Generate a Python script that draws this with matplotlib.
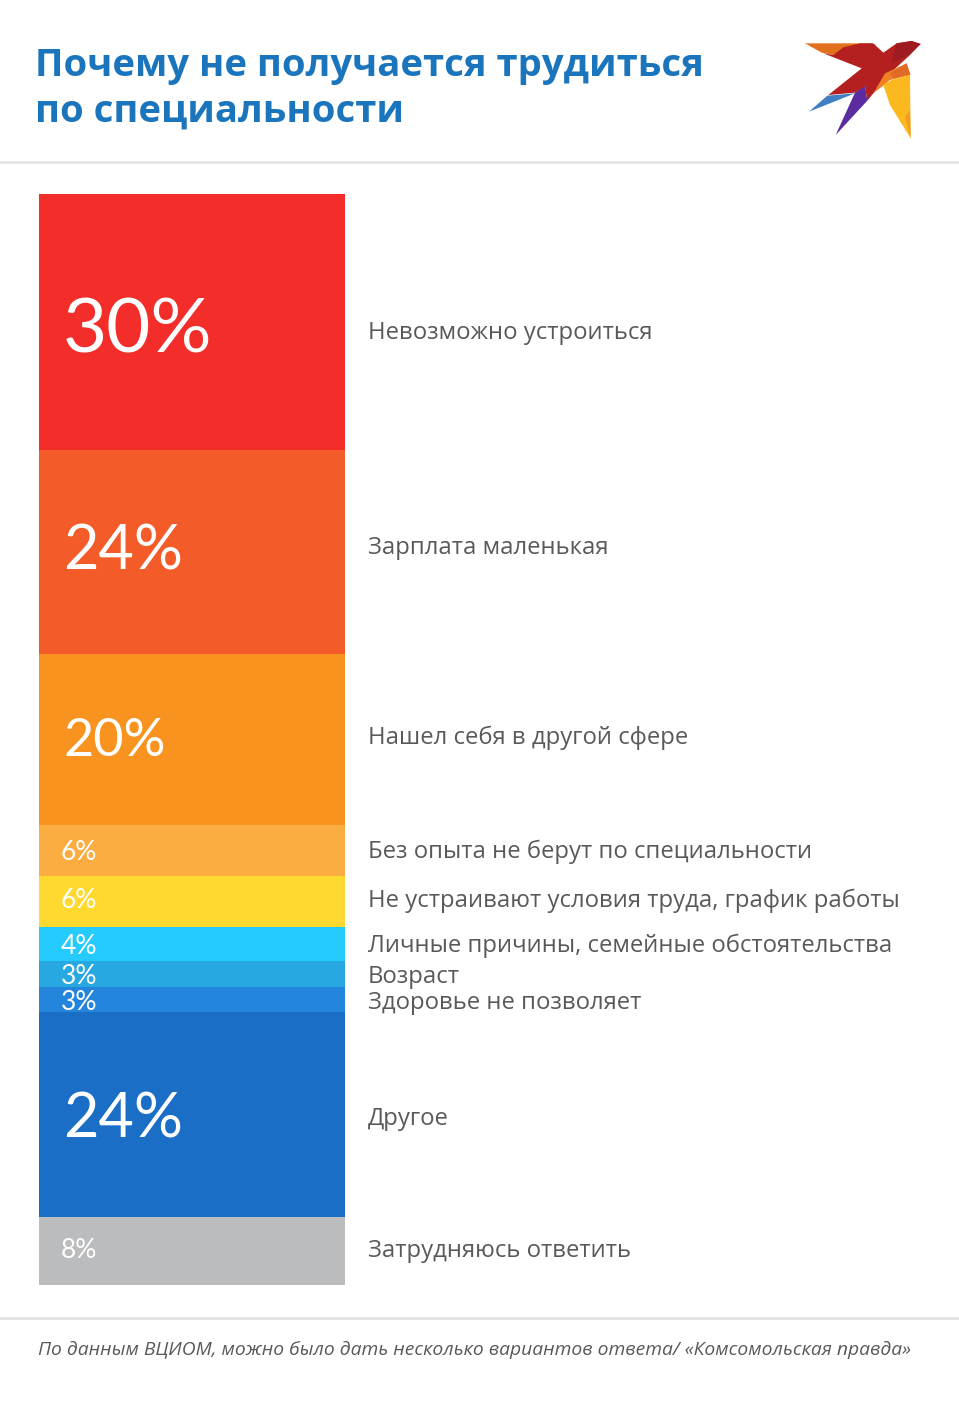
import matplotlib
matplotlib.use('Agg')
import matplotlib.pyplot as plt
from matplotlib.patches import Polygon
import numpy as np

# values
percents = [30, 24, 20, 6, 6, 4, 3, 3, 24, 8]
labels = ['Невозможно устроиться', 'Зарплата маленькая', 'Нашел себя в другой сфере',
          'Без опыта не берут по специальности', 'Не устраивают условия труда, график работы',
          'Личные причины, семейные обстоятельства', 'Возраст', 'Здоровье не позволяет',
          'Другое', 'Затрудняюсь ответить']
colors = ['#f32e2a', '#f35b29', '#f7931e', '#fbad41', '#ffd92f', '#25cbfd',
          '#27a8e0', '#2485dc', '#1b6ec5', '#bbbcbe']
note = 'По данным ВЦИОМ, можно было дать несколько вариантов ответа/ «Комсомольская правда»'

W, H = 959, 1403
fig = plt.figure(figsize=(W / 100, H / 100), dpi=100)

# stacked bar
ax = fig.add_axes([39 / W, 1 - 1285 / H, 306 / W, (1285 - 194) / H], zorder=1)
bottoms = np.concatenate([[0], np.cumsum(percents)[:-1]])
ax.bar(0, percents, bottom=bottoms, width=1, color=colors, align='edge')
ax.set_xlim(0, 1)
ax.set_ylim(sum(percents), 0)
ax.axis('off')

# page layer in pixel coordinates, on top of the bar
bg = fig.add_axes([0, 0, 1, 1], zorder=2)
bg.set_xlim(0, W)
bg.set_ylim(H, 0)
bg.axis('off')

bg.plot([0, W], [162, 162], color='#e2e3e3', lw=2)
bg.plot([0, W], [1318, 1318], color='#e2e3e3', lw=2)

bg.text(35, 66, 'Почему не получается трудиться', family='Open Sans', weight='bold',
        fontsize=27.5, color='#1b75bc', va='center')
bg.text(35, 112, 'по специальности', family='Open Sans', weight='bold',
        fontsize=27.5, color='#1b75bc', va='center')
bg.text(38, 1350, note, family='Open Sans', style='italic', fontsize=13.9,
        color='#58595b', va='center')

# percent labels: big ones for the large shares
num_size = {30: 55, 24: 44, 20: 37.5}
num_y = [331, 552, 742, 852, 901, 946, 977, 1003, 1120, 1251]
label_y = [333, 548, 738, 852, 901, 946, 977, 1003, 1119, 1251]
for p, ny, ly, name in zip(percents, num_y, label_y, labels):
    x = 63 if p >= 20 else 61
    bg.text(x, ny, '%d%%' % p, family='Lato', weight='normal',
            fontsize=num_size.get(p, 19), color='white', va='center', zorder=5)
    bg.text(368, ly, name, family='Open Sans', fontsize=17.2, color='#58595b',
            va='center', zorder=5)

# bird logo, drawn in zoom-crop units
def bird(pts, col):
    pts = np.array(pts, dtype=float)
    bg.add_patch(Polygon(np.c_[790 + pts[:, 0] / 3, 30 + pts[:, 1] / 3], closed=True,
                         fc=col, ec='none', zorder=3))

bird([(45, 40), (250, 40), (170, 58), (130, 75), (95, 68)], '#e2711d')
bird([(57, 245), (112, 197), (195, 190)], '#3f7fc4')
bird([(137, 315), (195, 188), (225, 165), (232, 212)], '#5b2c9f')
bird([(100, 70), (130, 75), (160, 52), (210, 40), (250, 40), (280, 68), (320, 40), (365, 33),
      (392, 42), (360, 75), (300, 130), (250, 190), (232, 212), (225, 168), (195, 188),
      (115, 195), (215, 115)], '#b3201f')
bird([(320, 40), (365, 33), (392, 42), (355, 75), (305, 100)], '#9e1b20')
bird([(250, 190), (285, 130), (350, 100), (362, 135), (300, 150), (282, 165)], '#ee7f22')
bird([(300, 130), (350, 100), (360, 133), (312, 145)], '#e06a26')
bird([(280, 165), (305, 150), (360, 135), (362, 325), (300, 225)], '#fbb91f')
bird([(345, 260), (360, 240), (362, 325)], '#f39c1f')

fig.savefig('out.png', dpi=100)
